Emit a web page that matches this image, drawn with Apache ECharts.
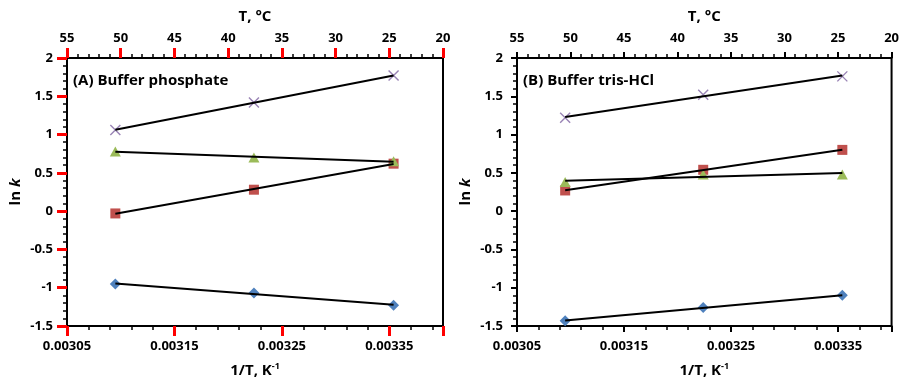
<!DOCTYPE html>
<html><head><meta charset="utf-8">
<script src="https://cdn.jsdelivr.net/npm/echarts@6/dist/echarts.min.js"></script>
<style>html,body{margin:0;padding:0;background:#fff}#c{width:902px;height:388px}</style>
</head><body><div id="c"></div>
<script>
// ---- data ----
const invT = [0.003095, 0.003224, 0.003354];          // 1/T, K^-1 (50, 37, 25 °C)
const phosBlue   = [-0.95, -1.07, -1.23];
const phosRed    = [-0.03, 0.28, 0.62];
const phosGreen  = [0.78, 0.70, 0.65];
const phosPurple = [1.06, 1.42, 1.77];
const trisBlue   = [-1.43, -1.26, -1.10];
const trisRed    = [0.27, 0.54, 0.80];
const trisGreen  = [0.38, 0.48, 0.48];
const trisPurple = [1.22, 1.52, 1.76];
const panelTitles = ['(A) Buffer phosphate', '(B) Buffer tris-HCl'];

const FONT = 'Open Sans';
const C = {blue:'#4F81BD', red:'#C0504D', green:'#9BBB59', purple:'#8064A2'};
const grids = [
  {left:67, top:58, width:376, height:268, show:true, borderColor:'#000', borderWidth:2, backgroundColor:'transparent'},
  {left:517, top:58, width:376, height:268, show:true, borderColor:'#000', borderWidth:2, backgroundColor:'transparent'}
];

function fit(xs, ys){
  const n = xs.length, mx = xs.reduce((a,b)=>a+b)/n, my = ys.reduce((a,b)=>a+b)/n;
  let sxy=0, sxx=0;
  for(let i=0;i<n;i++){sxy+=(xs[i]-mx)*(ys[i]-my); sxx+=(xs[i]-mx)**2;}
  const b = sxy/sxx, a = my - b*mx;
  return [[xs[0], a+b*xs[0]], [xs[n-1], a+b*xs[n-1]]];
}
const pts = ys => invT.map((x,i)=>[x, ys[i]]);

const lbl = {fontFamily:FONT, fontWeight:'bold', fontSize:13, color:'#000'};
const xAxes=[], yAxes=[], series=[];
const sets = [[phosBlue,phosRed,phosGreen,phosPurple],[trisBlue,trisRed,trisGreen,trisPurple]];
const markers = [
  {sym:'diamond', size:[11,11], col:C.blue},
  {sym:'rect', size:[10,10], col:C.red},
  {sym:'triangle', size:[11,10], col:C.green},
  {sym:'path://M0,0L10,10M10,0L0,10', size:[10,10], col:C.purple, stroke:true}
];
const tkA = () => ({show:true, length:10, lineStyle:{color:'red', width:3}});
const tkB = () => ({show:true, length:6, lineStyle:{color:'black', width:2}});
const mt = () => ({show:true, splitNumber:5, length:4, lineStyle:{color:'black', width:1.5}});
[0,1].forEach(g=>{
  const tk = g===0 ? tkA : tkB;
  const xb = xAxes.length;
  xAxes.push({type:'value', gridIndex:g, min:0.00305, max:0.0034, interval:0.0001,
    axisLine:{onZero:false, lineStyle:{color:'#000', width:2}},
    axisTick:tk(), minorTick:mt(),
    splitLine:{show:false},
    axisLabel:{...lbl, margin:14, formatter:v=>v.toFixed(5), showMaxLabel:false},
    name:'1/T, K{sup|-1}', nameLocation:'middle', nameGap:36,
    nameTextStyle:{...lbl, fontSize:15, rich:{sup:{fontFamily:FONT, fontWeight:'bold', fontSize:9, color:'#000', verticalAlign:'top', padding:[0,0,8,0]}}}
  });
  xAxes.push({type:'value', gridIndex:g, position:'top', min:20, max:55, interval:5, inverse:true,
    axisLine:{onZero:false, lineStyle:{color:'#000', width:2}},
    axisTick:tk(), minorTick:mt(),
    splitLine:{show:false},
    axisLabel:{...lbl, margin:13},
    name:'T, °C', nameLocation:'middle', nameGap:34, nameTextStyle:{...lbl, fontSize:15}
  });
  const yl = yAxes.length;
  yAxes.push({type:'value', gridIndex:g, min:-1.5, max:2, interval:0.5,
    axisLine:{onZero:false, lineStyle:{color:'#000', width:2}},
    axisTick:tk(), minorTick:mt(),
    splitLine:{show:false},
    axisLabel:{...lbl, margin:14},
    name:'ln {i|k}', nameLocation:'middle', nameGap:44, nameRotate:90,
    nameTextStyle:{...lbl, fontSize:15, rich:{i:{fontFamily:FONT, fontWeight:'bold', fontStyle:'italic', fontSize:15, color:'#000'}}}
  });
  sets[g].forEach((ys,k)=>{
    const m = markers[k];
    series.push({type:'scatter', xAxisIndex:xb, yAxisIndex:yl, data:pts(ys), symbol:m.sym, symbolSize:m.size,
      itemStyle: m.stroke ? {color:'none', borderColor:m.col, borderWidth:1.4} : {color:m.col, opacity:1}});
    series.push({type:'line', xAxisIndex:xb, yAxisIndex:yl, data:fit(invT, ys), showSymbol:false, symbol:'none',
      lineStyle:{color:'#000', width:2}});
  });
});

const chart = echarts.init(document.getElementById('c'), null, {renderer:'canvas'});
chart.setOption({
  animation:false,
  grid: grids,
  xAxis: xAxes, yAxis: yAxes, series,
  graphic: panelTitles.map((t,i)=>({type:'text', left:grids[i].left+6, top:grids[i].top+15,
    style:{text:t, fontFamily:FONT, fontWeight:'bold', fontSize:15, fill:'#000'}}))
});
</script></body></html>
